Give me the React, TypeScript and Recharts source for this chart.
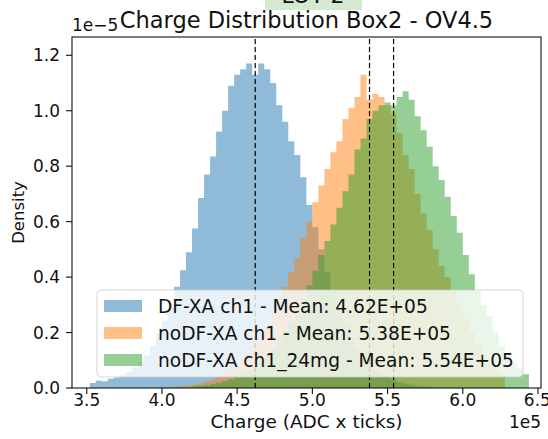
import React from 'react';
import { ComposedChart, Area, XAxis, YAxis, ReferenceLine } from 'recharts';

// histogram bins: left edges start at 3.52e5, width 0.04e5
const binStart = 3.52;
const binWidth = 0.04;

// density values in units of 1e-5, one per bin
const dfXa = [
  0.018, 0.026, 0.024, 0.033, 0.038, 0.048, 0.058, 0.072, 0.094, 0.118,
  0.152, 0.196, 0.243, 0.302, 0.365, 0.425, 0.49, 0.575, 0.685, 0.77,
  0.835, 0.925, 1.0, 1.09, 1.13, 1.15, 1.17, 1.13, 1.17, 1.15,
  1.1, 1.02, 0.96, 0.89, 0.84, 0.76, 0.66, 0.58, 0.5, 0.42,
  0.35, 0.29, 0.23, 0.18, 0.14, 0.11, 0.085, 0.065, 0.05, 0.04,
  0.03, 0.022, 0.016, 0.012, 0.008, 0.005, 0.003, 0.002, 0.001, 0,
  0, 0, 0, 0, 0, 0, 0, 0, 0, 0,
  0, 0, 0,
];

const noDfXa = [
  0, 0, 0, 0, 0, 0, 0, 0, 0, 0,
  0, 0, 0.003, 0.004, 0.005, 0.007, 0.01, 0.013, 0.018, 0.024,
  0.031, 0.04, 0.052, 0.066, 0.083, 0.103, 0.127, 0.156, 0.188, 0.225,
  0.267, 0.313, 0.364, 0.418, 0.47, 0.54, 0.6, 0.67, 0.73, 0.79,
  0.85, 0.89, 0.97, 1.01, 1.05, 1.13, 1.04, 1.06, 1.05, 1.02,
  0.99, 0.92, 0.84, 0.79, 0.7, 0.63, 0.57, 0.5, 0.44, 0.4,
  0.35, 0.3, 0.25, 0.2, 0.16, 0.12, 0.09, 0.07, 0.05, 0,
  0, 0, 0,
];

const noDfXa24 = [
  0, 0, 0, 0, 0, 0, 0, 0, 0, 0,
  0, 0, 0, 0, 0.002, 0.003, 0.004, 0.006, 0.008, 0.011,
  0.014, 0.019, 0.024, 0.031, 0.04, 0.05, 0.063, 0.078, 0.096, 0.118,
  0.142, 0.17, 0.203, 0.239, 0.279, 0.323, 0.371, 0.423, 0.48, 0.53,
  0.59, 0.65, 0.71, 0.77, 0.86, 0.9, 0.97, 1.0, 1.02, 1.03,
  1.02, 1.05, 1.07, 1.04, 0.98, 0.93, 0.87, 0.8, 0.75, 0.69,
  0.62, 0.56, 0.48, 0.41, 0.35, 0.3, 0.26, 0.2, 0.15, 0.12,
  0.09, 0.07, 0.05,
];

const seriesNames = ['DF-XA ch1', 'noDF-XA ch1', 'noDF-XA ch1_24mg'];
const means = [4.62, 5.38, 5.54];
const colors = ['#1f77b4', '#ff7f0e', '#2ca02c'];
const xTicks = [3.5, 4.0, 4.5, 5.0, 5.5, 6.0, 6.5];
const yTicks = [0, 0.2, 0.4, 0.6, 0.8, 1.0, 1.2];

const W = 548;
const H = 439;
const plot = { left: 72, top: 37, right: 541, bottom: 388 };
const font = 'DejaVu Sans, sans-serif';

// step areas need one extra point at the last right edge
const series = [dfXa, noDfXa, noDfXa24];
const data = Array.from({ length: dfXa.length + 1 }, (_, i) => {
  const j = Math.min(i, dfXa.length - 1);
  return {
    x: +(binStart + i * binWidth).toFixed(2),
    s0: series[0][j],
    s1: series[1][j],
    s2: series[2][j],
  };
});

export default function App() {
  const cx = (plot.left + plot.right) / 2;
  const cy = (plot.top + plot.bottom) / 2;
  const rows = [306, 333, 360];

  return (
    <div style={{ position: 'absolute', left: 0, top: 0, width: W, height: H, background: '#fff' }}>
      <ComposedChart
        width={W}
        height={H}
        data={data}
        margin={{ top: plot.top, right: W - plot.right, left: 0, bottom: 0 }}
      >
        <XAxis
          dataKey="x"
          type="number"
          domain={[3.402, 6.52]}
          ticks={xTicks}
          allowDataOverflow
          height={H - plot.bottom}
          tickFormatter={(v: number) => v.toFixed(1)}
          tick={{ fill: '#111', fontSize: 17, fontFamily: font }}
          tickLine={{ stroke: '#111', strokeWidth: 1.1 }}
          tickSize={6}
          tickMargin={0}
          axisLine={false}
        />
        <YAxis
          type="number"
          domain={[0, 1.266]}
          ticks={yTicks}
          allowDataOverflow
          width={plot.left}
          tickFormatter={(v: number) => v.toFixed(1)}
          tick={{ fill: '#111', fontSize: 17, fontFamily: font }}
          tickLine={{ stroke: '#111', strokeWidth: 1.1 }}
          tickSize={6}
          tickMargin={6}
          axisLine={false}
        />
        {colors.map((c, i) => (
          <Area
            key={i}
            dataKey={`s${i}`}
            type="stepAfter"
            stroke="none"
            fill={c}
            fillOpacity={0.5}
            baseValue={0}
            isAnimationActive={false}
            dot={false}
            activeDot={false}
          />
        ))}
        {means.map((m, i) => (
          <ReferenceLine key={i} x={m} stroke="#000" strokeWidth={1.2} strokeDasharray="5 3" />
        ))}
      </ComposedChart>

      <svg
        width={W}
        height={H}
        style={{ position: 'absolute', left: 0, top: 0, pointerEvents: 'none' }}
        fontFamily={font}
      >
        <rect x={265} y={0} width={97} height={10} fill="#d5e8d0" />
        <text x={313} y={3} fontSize={22} textAnchor="middle" fill="#111">LOT 2</text>

        <rect
          x={plot.left}
          y={plot.top}
          width={plot.right - plot.left}
          height={plot.bottom - plot.top}
          fill="none"
          stroke="#111"
          strokeWidth={1.1}
        />
        <text x={cx} y={28} fontSize={22.5} textAnchor="middle" fill="#111">
          Charge Distribution Box2 - OV4.5
        </text>
        <text x={plot.left} y={31} fontSize={17} fill="#111">1e−5</text>
        <text x={plot.right} y={428} fontSize={17} textAnchor="end" fill="#111">1e5</text>
        <text x={cx} y={428} fontSize={18.5} textAnchor="middle" fill="#111">
          Charge (ADC x ticks)
        </text>
        <text
          x={0}
          y={0}
          fontSize={16.5}
          textAnchor="middle"
          fill="#111"
          transform={`translate(24, ${cy}) rotate(-90)`}
        >
          Density
        </text>

        <rect
          x={97}
          y={290}
          width={426}
          height={87}
          rx={4}
          fill="#fff"
          fillOpacity={0.8}
          stroke="#ccc"
          strokeOpacity={0.8}
        />
        {seriesNames.map((name, i) => (
          <g key={name}>
            <rect x={104} y={rows[i] - 6} width={38} height={12} fill={colors[i]} fillOpacity={0.5} />
            <text x={158} y={rows[i] + 6.5} fontSize={18.6} fill="#111">
              {`${name} - Mean: ${means[i].toFixed(2)}E+05`}
            </text>
          </g>
        ))}
      </svg>
    </div>
  );
}
